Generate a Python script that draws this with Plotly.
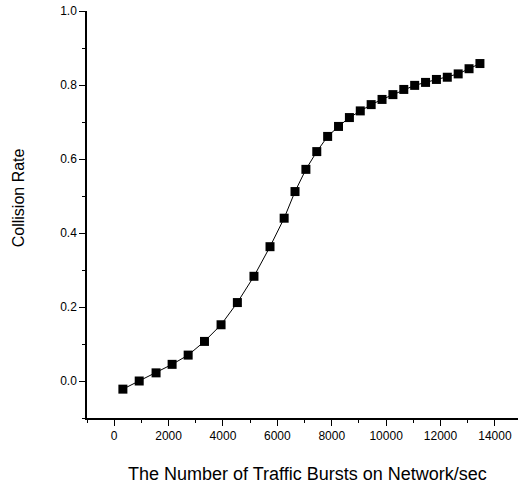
import plotly.graph_objects as go

# Traffic bursts per second vs. measured collision rate
bursts = [320, 920, 1540, 2130, 2720, 3320, 3930, 4530, 5140, 5730,
          6250, 6650, 7050, 7450, 7850, 8250, 8650, 9050, 9450, 9850,
          10250, 10650, 11050, 11450, 11850, 12250, 12650, 13050, 13450]
collision_rate = [-0.022, 0.000, 0.022, 0.045, 0.070, 0.107, 0.152, 0.212, 0.283, 0.363,
                  0.440, 0.512, 0.572, 0.620, 0.661, 0.688, 0.712, 0.730, 0.747, 0.761,
                  0.774, 0.788, 0.799, 0.807, 0.815, 0.821, 0.830, 0.844, 0.858]

x_ticks = [0, 2000, 4000, 6000, 8000, 10000, 12000, 14000]
x_tick_text = ["0", "2000", "4000", "6000", "8000", "10000", "12000", "14000"]
y_ticks = [0.0, 0.2, 0.4, 0.6, 0.8, 1.0]
y_tick_text = ["0.0", "0.2", "0.4", "0.6", "0.8", "1.0"]

x_title = "The Number of Traffic Bursts on Network/sec"
y_title = "Collision Rate"

FONT = "Liberation Sans, Arial, sans-serif"

fig = go.Figure()
fig.add_trace(go.Scatter(
    x=bursts, y=collision_rate,
    mode="lines+markers",
    line=dict(color="black", width=1),
    marker=dict(symbol="square", size=9, color="black"),
    showlegend=False,
))

axis_common = dict(
    showline=True, linecolor="black", linewidth=1.5,
    ticks="outside", tickcolor="black", tickwidth=1.2, ticklen=6,
    showgrid=False, zeroline=False, mirror=False,
    tickfont=dict(family=FONT, size=12, color="black"),
)

fig.update_layout(
    width=518, height=486,
    margin=dict(l=87, r=0, t=11, b=68),
    paper_bgcolor="white", plot_bgcolor="white",
    font=dict(family=FONT, color="black"),
    xaxis=dict(
        range=[-1000, 14850],
        tickvals=x_ticks, ticktext=x_tick_text,
        minor=dict(dtick=1000, tick0=0, ticks="outside", ticklen=3,
                   tickcolor="black", tickwidth=1, showgrid=False),
        **axis_common,
    ),
    yaxis=dict(
        range=[-0.1, 1.0],
        tickvals=y_ticks, ticktext=y_tick_text,
        minor=dict(dtick=0.1, tick0=0, ticks="outside", ticklen=3,
                   tickcolor="black", tickwidth=1, showgrid=False),
        **axis_common,
    ),
    annotations=[
        dict(text=x_title, xref="paper", yref="paper", x=0.512, y=-0.138,
             xanchor="center", yanchor="middle", showarrow=False,
             font=dict(family=FONT, size=18, color="black")),
        dict(text=y_title, xref="paper", yref="paper", x=-0.160, y=0.54,
             xanchor="center", yanchor="middle", showarrow=False, textangle=-90,
             font=dict(family=FONT, size=16, color="black")),
    ],
)

fig.write_html("out.html")
